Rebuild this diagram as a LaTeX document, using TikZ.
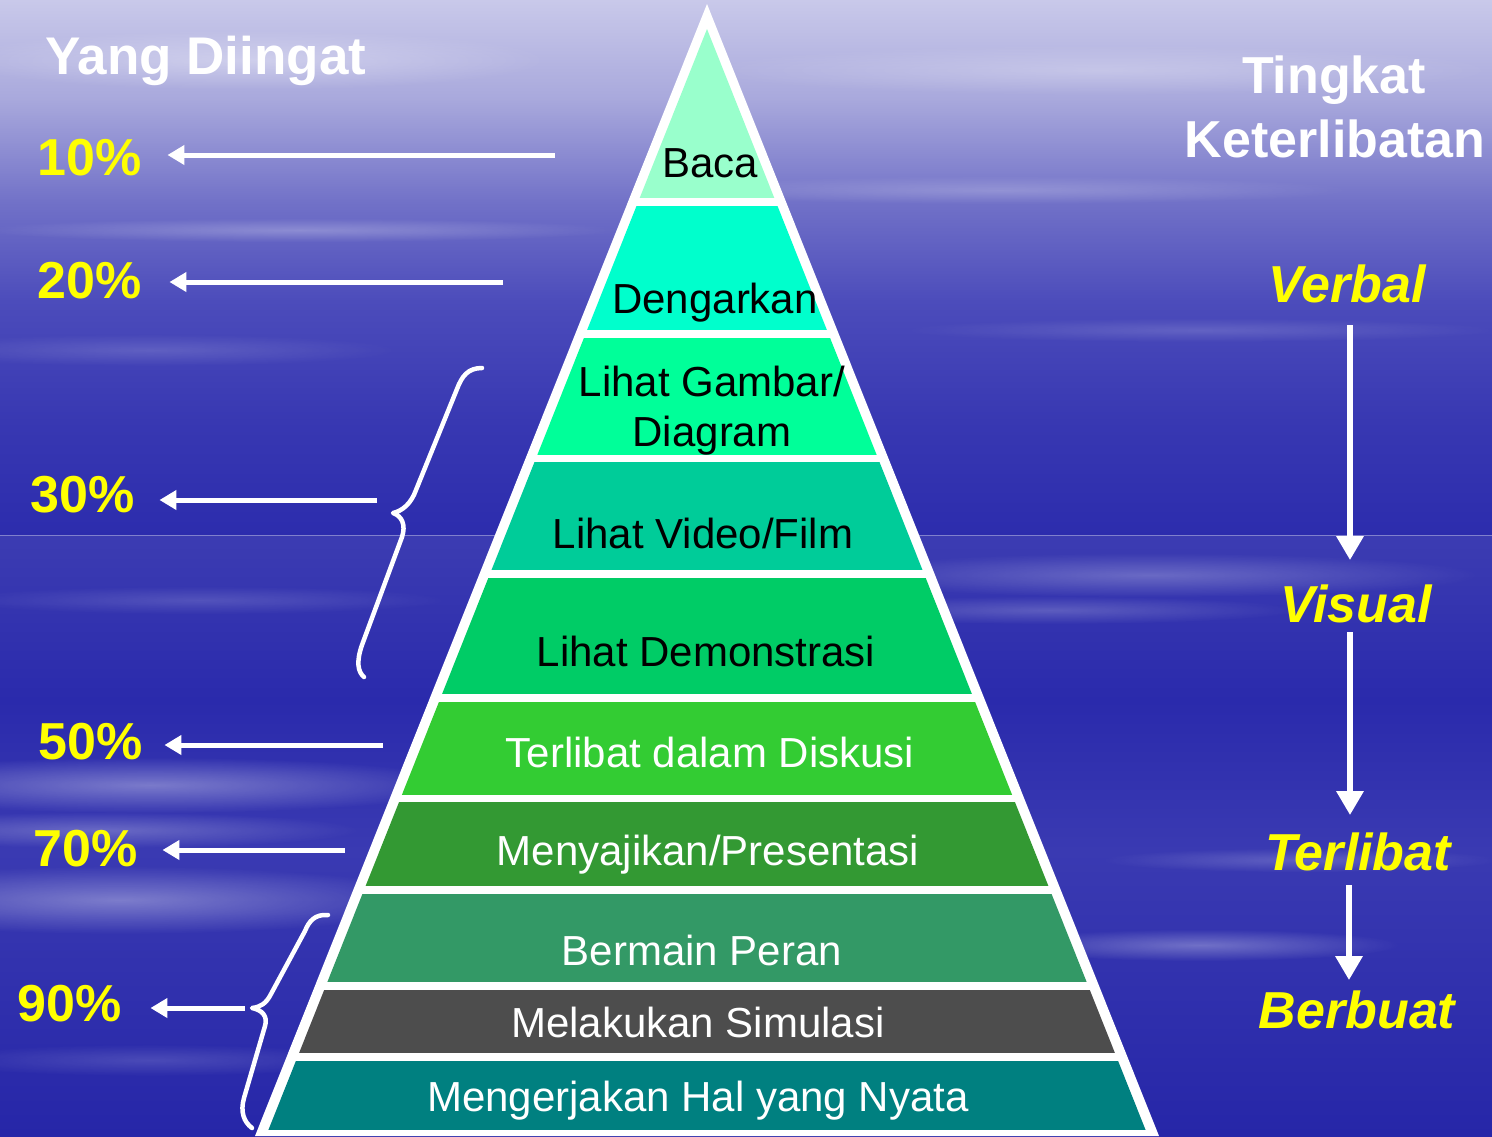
\documentclass[tikz,border=0pt]{standalone}
\usepackage{fontspec}
\setmainfont{Liberation Sans}
\usetikzlibrary{arrows.meta,fadings}
\tikzfading[name=fuzzy, inner color=transparent!0, outer color=transparent!100]
\definecolor{ylw}{HTML}{FFFF00}
\definecolor{cA}{HTML}{99FFCC}
\definecolor{cB}{HTML}{00FFCC}
\definecolor{cC}{HTML}{00FF99}
\definecolor{cD}{HTML}{00CC99}
\definecolor{cE}{HTML}{00CC66}
\definecolor{cF}{HTML}{33CC33}
\definecolor{cG}{HTML}{339933}
\definecolor{cH}{HTML}{339966}
\definecolor{cI}{HTML}{4D4D4D}
\definecolor{cJ}{HTML}{008080}
\definecolor{bg0}{HTML}{C9C9EA}
\definecolor{bg1}{HTML}{A8A8DC}
\definecolor{bg2}{HTML}{7272C8}
\definecolor{bg3}{HTML}{4C4CBB}
\definecolor{bg4}{HTML}{3838B2}
\definecolor{bg5}{HTML}{2C2CAD}
\definecolor{bg6}{HTML}{3C3CB2}
\definecolor{bg7}{HTML}{2A2AAC}
\definecolor{bg8}{HTML}{3A3AB2}
\definecolor{bg9}{HTML}{2626A8}
\begin{document}
\begin{tikzpicture}[x=1pt,y=-1pt,
  bandtxt/.style={font=\fontsize{42}{50}\selectfont, inner sep=0pt, anchor=base},
  pct/.style={font=\fontsize{52}{60}\selectfont\bfseries, text=ylw, inner sep=0pt, anchor=base west},
  head/.style={font=\fontsize{52}{60}\selectfont\bfseries, text=white, inner sep=0pt, anchor=base},
  lvl/.style={font=\fontsize{52}{60}\selectfont\bfseries\itshape, text=ylw, inner sep=0pt, anchor=base},
  larr/.style={draw=white, line width=5pt, -{Triangle[length=17pt,width=19pt]}},
  rarr/.style={draw=white, line width=6pt, -{Triangle[length=24pt,width=26pt]}},
  brace/.style={draw=white, line width=4.5pt, line cap=round, line join=round},
  streak/.style={fill=white, path fading=fuzzy}]
\useasboundingbox (0,0) rectangle (1492,1136);
% background
\shade[top color=bg0, bottom color=bg1] (0,0) rectangle (1492,101);
\shade[top color=bg1, bottom color=bg2] (0,100) rectangle (1492,201);
\shade[top color=bg2, bottom color=bg3] (0,200) rectangle (1492,301);
\shade[top color=bg3, bottom color=bg4] (0,300) rectangle (1492,421);
\shade[top color=bg4, bottom color=bg5] (0,420) rectangle (1492,536);
\shade[top color=bg6, bottom color=bg7] (0,535) rectangle (1492,701);
\shade[top color=bg7, bottom color=bg8] (0,700) rectangle (1492,851);
\shade[top color=bg8, bottom color=bg9] (0,850) rectangle (1492,1136);
% streaks
\fill[streak, opacity=0.35] (250,60) ellipse (300 and 30);
\fill[streak, opacity=0.25] (1100,70) ellipse (400 and 25);
\fill[streak, opacity=0.25] (300,230) ellipse (320 and 12);
\fill[streak, opacity=0.2] (1000,190) ellipse (350 and 14);
\fill[streak, opacity=0.15] (150,350) ellipse (250 and 16);
\fill[streak, opacity=0.15] (1200,330) ellipse (300 and 12);
\fill[streak, opacity=0.25] (1150,575) ellipse (330 and 22);
\fill[streak, opacity=0.2] (1050,610) ellipse (250 and 14);
\fill[streak, opacity=0.15] (200,600) ellipse (250 and 14);
\fill[streak, opacity=0.35] (150,785) ellipse (320 and 28);
\fill[streak, opacity=0.35] (120,900) ellipse (320 and 34);
\fill[streak, opacity=0.25] (100,830) ellipse (260 and 18);
\fill[streak, opacity=0.3] (1200,945) ellipse (200 and 16);
\fill[streak, opacity=0.2] (1300,860) ellipse (200 and 12);
\fill[streak, opacity=0.15] (150,1060) ellipse (220 and 16);
\draw[white, opacity=0.35, line width=0.8pt] (0,535) -- (1492,535);
% pyramid
\fill[white] (707,4) -- (255,1136) -- (1159,1136) -- cycle;
\begin{scope}
\clip (707,29) -- (266,1136) -- (1148,1136) -- cycle;
\fill[cA] (0,0) rectangle (1492,198);
\fill[cB] (0,206) rectangle (1492,330);
\fill[cC] (0,338) rectangle (1492,455);
\fill[cD] (0,462) rectangle (1492,570);
\fill[cE] (0,578) rectangle (1492,694);
\fill[cF] (0,702) rectangle (1492,795);
\fill[cG] (0,802) rectangle (1492,886);
\fill[cH] (0,894) rectangle (1492,982);
\fill[cI] (0,990) rectangle (1492,1053);
\fill[cJ] (0,1061) rectangle (1492,1130);
\end{scope}
\node[bandtxt] (b1) at (710,177) {Baca};
\node[bandtxt] (b2) at (715,313) {Dengarkan};
\node[bandtxt] (b3a) at (712,396) {Lihat Gambar/};
\node[bandtxt] (b3b) at (712,446) {Diagram};
\node[bandtxt] (b4) at (703,548) {Lihat Video/Film};
\node[bandtxt] (b5) at (706,666) {Lihat Demonstrasi};
\node[bandtxt, text=white] (b6) at (710,767) {Terlibat dalam Diskusi};
\node[bandtxt, text=white] (b7) at (708,865) {Menyajikan/Presentasi};
\node[bandtxt, text=white] (b8) at (702,965) {Bermain Peran};
\node[bandtxt, text=white] (b9) at (698,1037) {Melakukan Simulasi};
\node[bandtxt, text=white] (b10) at (698,1111) {Mengerjakan Hal yang Nyata};
% left side
\node[head, anchor=base west, font=\fontsize{53}{60}\selectfont\bfseries] (yd) at (45,74) {Yang Diingat};
\node[pct] (p10) at (37,175) {10\%};
\node[pct] (p20) at (37,298) {20\%};
\node[pct] (p30) at (30,512) {30\%};
\node[pct] (p50) at (38,759) {50\%};
\node[pct] (p70) at (33,866) {70\%};
\node[pct] (p90) at (17,1021) {90\%};
\coordinate (s10) at (555,155);
\coordinate (s20) at (503,282);
\coordinate (s30) at (377,500);
\coordinate (s50) at (383,745);
\coordinate (s70) at (345,850);
\coordinate (s90) at (245,1008);
\draw[larr, shorten >=26pt] (s10) -- (s10 -| p10.east);
\draw[larr, shorten >=28pt] (s20) -- (s20 -| p20.east);
\draw[larr, shorten >=25pt] (s30) -- (s30 -| p30.east);
\draw[larr, shorten >=22pt] (s50) -- (s50 -| p50.east);
\draw[larr, shorten >=25pt] (s70) -- (s70 -| p70.east);
\draw[larr, shorten >=29pt] (s90) -- (s90 -| p90.east);
% braces
\draw[brace] (482,368) .. controls (468,368) and (462,376) .. (457,389)
  -- (416,490) .. controls (411,504) and (402,511) .. (393,513)
  .. controls (402,516) and (406,525) .. (402,537)
  -- (362,645) .. controls (356,662) and (358,672) .. (364,677);
\draw[brace] (328,915) .. controls (315,914) and (309,921) .. (305,931)
  -- (271,994) .. controls (266,1004) and (260,1007) .. (252,1008)
  .. controls (262,1010) and (268,1016) .. (265,1026)
  -- (244,1098) .. controls (240,1112) and (244,1122) .. (252,1128);
% right side
\node[head] (tk1) at (1334,93) {Tingkat};
\node[head] (tk2) at (1335,157) {Keterlibatan};
\node[lvl] (verbal) at (1347,302) {Verbal};
\node[lvl] (visual) at (1356,622) {Visual};
\node[lvl] (terlibat) at (1358,870) {Terlibat};
\node[lvl] (berbuat) at (1357,1028) {Berbuat};
\coordinate (r1) at (1350,325);
\coordinate (r2) at (1350,632);
\coordinate (r3) at (1349,885);
\draw[rarr, shorten >=24pt] (r1) -- (r1 |- visual.north);
\draw[rarr, shorten >=17pt] (r2) -- (r2 |- terlibat.north);
\draw[rarr, shorten >=10pt] (r3) -- (r3 |- berbuat.north);
\end{tikzpicture}
\end{document}
